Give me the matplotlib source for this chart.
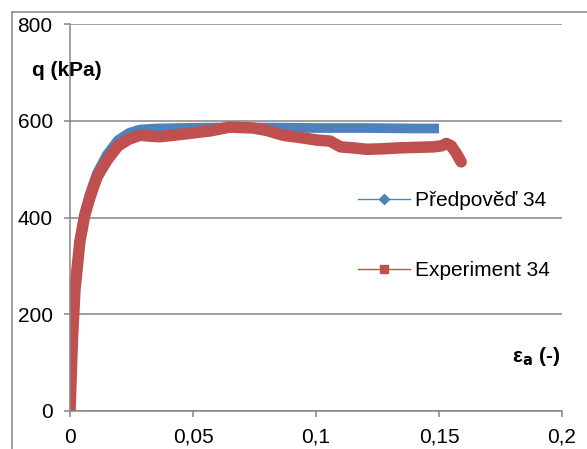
import matplotlib
matplotlib.use("Agg")
import matplotlib.pyplot as plt
from matplotlib.lines import Line2D

plt.rcParams["font.family"] = ["Liberation Sans", "DejaVu Sans"]

# prediction (blue) - axial strain vs deviator stress
pred_eps = [0, 0.001, 0.002, 0.004, 0.006, 0.008, 0.011, 0.015, 0.0195, 0.024,
            0.0285, 0.035, 0.045, 0.06, 0.08, 0.1, 0.12, 0.14, 0.15]
pred_q = [0, 155, 255, 355, 410, 448, 492, 530, 560, 575,
          582, 584, 585, 586, 586, 585, 585, 584, 584]

# experiment (red)
exp_eps = [0, 0.001, 0.002, 0.004, 0.006, 0.008, 0.011, 0.015, 0.0195, 0.024,
           0.0285, 0.033, 0.0366, 0.042, 0.0488, 0.057, 0.065, 0.0744, 0.08,
           0.0866, 0.094, 0.1004, 0.1057, 0.11, 0.115, 0.1207, 0.127, 0.134,
           0.141, 0.1476, 0.151, 0.153, 0.155, 0.157, 0.159]
exp_q = [0, 150, 250, 350, 405, 440, 484, 518, 548, 562,
         570, 568, 567, 570, 574, 579, 587, 585, 580,
         570, 565, 560, 558, 546, 544, 541, 542, 544,
         545, 546, 548, 553, 548, 533, 515]

x_ticks = [0, 0.05, 0.1, 0.15, 0.2]
x_labels = ["0", "0,05", "0,1", "0,15", "0,2"]
y_ticks = [0, 200, 400, 600, 800]

blue = "#4F81BD"
red = "#C0504D"
grey = "#868686"

W, H = 587, 449
fig = plt.figure(figsize=(W / 100, H / 100), dpi=100)
ax = fig.add_axes([70 / W, (H - 411) / H, (562 - 70) / W, (411 - 24) / H])

ax.plot(pred_eps, pred_q, color=blue, lw=7, solid_capstyle="butt",
        solid_joinstyle="round")
ax.plot(exp_eps, exp_q, color=red, lw=8.3, solid_capstyle="round",
        solid_joinstyle="round")

ax.set_xlim(0, 0.2)
ax.set_ylim(0, 800)
ax.set_xticks(x_ticks)
ax.set_xticklabels(x_labels)
ax.set_yticks(y_ticks)
ax.yaxis.grid(True, color=grey, lw=1.1)
ax.set_axisbelow(True)
for s in ("top", "right"):
    ax.spines[s].set_visible(False)
for s in ("left", "bottom"):
    ax.spines[s].set_color(grey)
    ax.spines[s].set_linewidth(1.1)
ax.tick_params(axis="both", colors=grey, labelcolor="black", labelsize=15,
               width=1.1, direction="out")
ax.tick_params(axis="y", length=4.5, pad=8)
ax.tick_params(axis="x", length=4, pad=8)

ax.text(32 / W, (H - 70) / H, "q (kPa)", transform=fig.transFigure,
        fontsize=15, fontweight="bold", ha="left", va="center")
ax.text(560 / W, (H - 357) / H, r"ε$_\mathbf{a}$ (-)", transform=fig.transFigure,
        fontsize=15, fontweight="bold", ha="right", va="center")

handles = [Line2D([], [], color=blue, lw=1, marker="D", markersize=5.5),
           Line2D([], [], color=red, lw=1, marker="s", markersize=6)]
ax.legend(handles, ["Předpověď 34", "Experiment 34"], loc="upper left",
          bbox_to_anchor=(358 / W, (H - 191) / H), bbox_transform=fig.transFigure,
          frameon=False, fontsize=15, borderpad=0, borderaxespad=0,
          handlelength=2.5, handletextpad=0.25, labelspacing=2.45)

# chart area border (only the left and top edges are in view)
fig.add_artist(Line2D([12 / W, 12 / W], [0, (H - 12) / H], color=grey, lw=1.1,
                      transform=fig.transFigure))
fig.add_artist(Line2D([12 / W, 1], [(H - 12) / H, (H - 12) / H], color=grey,
                      lw=1.1, transform=fig.transFigure))

fig.savefig("out.png", dpi=100)
